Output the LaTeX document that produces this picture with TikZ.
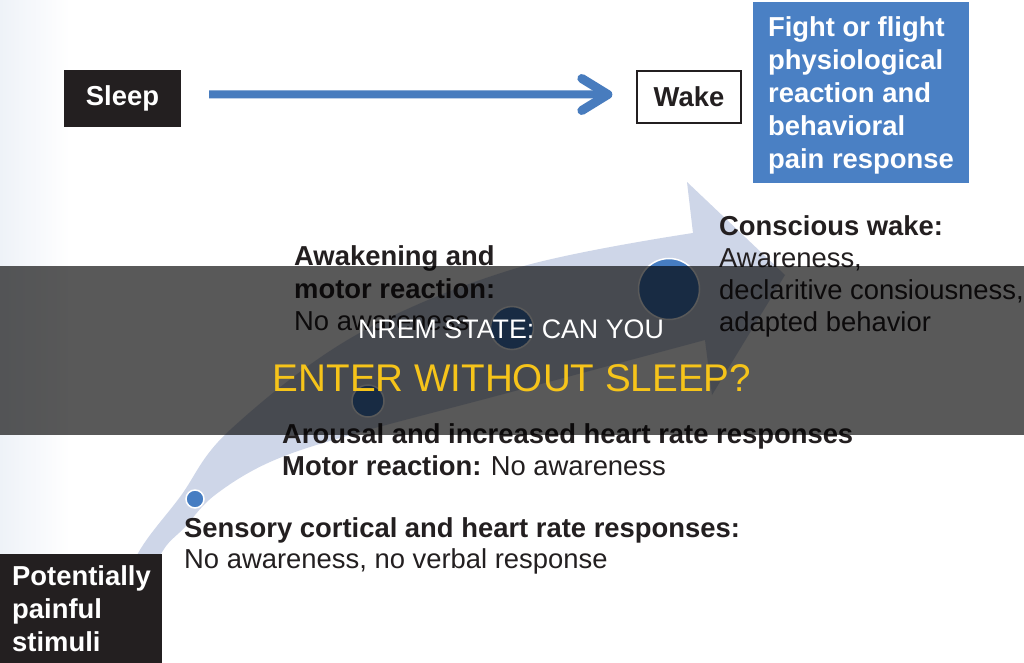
\documentclass[tikz,border=0pt]{standalone}
\usepackage{fontspec}
\setmainfont{Liberation Sans}
\usetikzlibrary{arrows.meta}
\definecolor{ink}{RGB}{35,31,32}
\definecolor{bluebox}{RGB}{74,128,196}
\definecolor{arrowblue}{RGB}{72,124,190}
\definecolor{bandc}{RGB}{206,214,232}
\definecolor{dotblue}{RGB}{70,125,194}
\definecolor{titleyellow}{RGB}{246,196,26}
\definecolor{edgetint}{RGB}{238,242,248}
\begin{document}
\begin{tikzpicture}[x=1bp,y=-1bp,
  lbl/.style={anchor=base west, inner sep=0, text=ink, font=\fontsize{27.4bp}{33bp}\selectfont},
  blbl/.style={lbl, font=\bfseries\fontsize{27.4bp}{33bp}\selectfont},
  darkbox/.style={fill=ink, text=white, inner sep=0, font=\bfseries\fontsize{27.4bp}{33bp}\selectfont},
  wakebox/.style={draw=ink, line width=1.3bp, fill=white, text=ink, inner sep=0, font=\bfseries\fontsize{27.4bp}{33bp}\selectfont},
  bluetext/.style={fill=bluebox, text=white, inner sep=0, font=\bfseries\fontsize{27.4bp}{33bp}\selectfont},
  dot/.style={circle, fill=dotblue, draw=white, line width=1.5bp, inner sep=0},
  harrow/.style={draw=arrowblue, line width=8bp, -{Straight Barb[length=26bp, width=32bp, line width=9bp, round]}},
  overlaytext/.style={anchor=base, inner sep=0}
]
\useasboundingbox (0,0) rectangle (1024,663);
\fill[white] (0,0) rectangle (1024,663);
\shade[left color=edgetint, right color=white] (0,0) rectangle (70,663);

% wide curved arrow
\fill[bandc]
  plot[smooth, tension=0.6] coordinates {(112,620) (137,555) (180,497) (230,430) (356,335) (517,268) (693,233)}
  -- (687,182) -- (785,275) -- (712,395) -- (705,340)
  -- plot[smooth, tension=0.6] coordinates {(705,340) (500,395) (350,435) (270,462) (215,495) (185,527) (160,556) (140,620)}
  -- cycle;

% dots along the arrow
\node[dot, minimum size=18bp] (d1) at (195,499) {};
\node[dot, minimum size=32bp] (d2) at (368,401) {};
\node[dot, minimum size=43bp] (d3) at (512,328) {};
\node[dot, minimum size=61bp] (d4) at (669,289) {};

% boxes
\node[darkbox, minimum width=117bp, minimum height=57bp] (sleep) at (122.5,98.5) {Sleep};
\node[wakebox, minimum width=104bp, minimum height=52bp] (wake) at (689,97) {Wake};
\node[bluetext, minimum width=216bp, minimum height=181bp, align=left] (fight) at (861,92.5)
  {\rule{0pt}{26bp}Fight or flight\\physiological\\reaction and\\behavioral\\pain response};
\node[darkbox, anchor=north west, minimum width=162bp, minimum height=110bp,
      text width=138bp, inner xsep=12bp, inner ysep=0, align=left] (stim) at (0,554)
  {Potentially\\painful\\stimuli};

\draw[harrow, shorten <=28bp, shorten >=24bp] ([yshift=4bp]sleep.east) -- ([yshift=2.5bp]wake.west);

% labels
\node[blbl] (cw1) at (719,235) {Conscious wake:};
\node[lbl]  (cw2) at (719,267) {Awareness,};
\node[lbl]  (cw3) at (719,299) {declaritive consiousness,};
\node[lbl]  (cw4) at (719,331) {adapted behavior};

\node[blbl] (aw1) at (294,265) {Awakening and};
\node[blbl] (aw2) at (294,298) {motor reaction:};
\node[lbl]  (aw3) at (294,330) {No awareness};

\node[blbl] (ar1) at (282,443) {Arousal and increased heart rate responses};
\node[lbl]  (ar2) at (282,475) {\textbf{Motor reaction:}\hspace{-1bp} No awareness};

\node[blbl] (se1) at (184,537) {Sensory cortical and heart rate responses:};
\node[lbl]  (se2) at (184,568) {No awareness, no verbal response};

% title overlay
\fill[black, opacity=0.65] (0,266) rectangle (1024,435);
\node[overlaytext, text=white, font=\fontsize{26.8bp}{30bp}\selectfont] (title1) at (511,338) {NREM STATE: CAN YOU};
\node[overlaytext, text=titleyellow, font=\fontsize{38.6bp}{42bp}\selectfont] (title2) at (512,391) {ENTER WITHOUT SLEEP?};
\end{tikzpicture}
\end{document}
